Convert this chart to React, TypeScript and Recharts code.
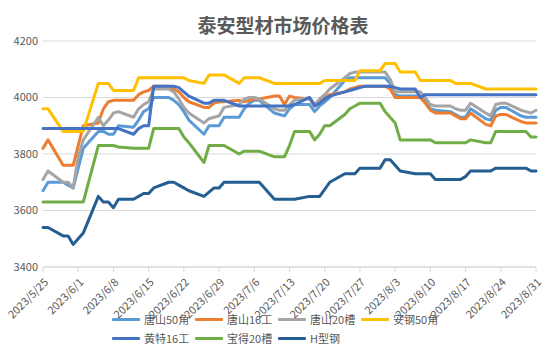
import React from 'react';
import { LineChart, Line, XAxis, YAxis, CartesianGrid } from 'recharts';

const dates = [
  '2023/5/25', '2023/5/26', '2023/5/29', '2023/5/30', '2023/5/31',
  '2023/6/1', '2023/6/2', '2023/6/5', '2023/6/6', '2023/6/7', '2023/6/8', '2023/6/9',
  '2023/6/12', '2023/6/13', '2023/6/14', '2023/6/15', '2023/6/16',
  '2023/6/19', '2023/6/20', '2023/6/21', '2023/6/22', '2023/6/23',
  '2023/6/26', '2023/6/27', '2023/6/28', '2023/6/29', '2023/6/30',
  '2023/7/3', '2023/7/4', '2023/7/5', '2023/7/6', '2023/7/7',
  '2023/7/10', '2023/7/11', '2023/7/12', '2023/7/13', '2023/7/14',
  '2023/7/17', '2023/7/18', '2023/7/19', '2023/7/20', '2023/7/21',
  '2023/7/24', '2023/7/25', '2023/7/26', '2023/7/27', '2023/7/28',
  '2023/7/31', '2023/8/1', '2023/8/2', '2023/8/3', '2023/8/4',
  '2023/8/7', '2023/8/8', '2023/8/9', '2023/8/10', '2023/8/11',
  '2023/8/14', '2023/8/15', '2023/8/16', '2023/8/17', '2023/8/18',
  '2023/8/21', '2023/8/22', '2023/8/23', '2023/8/24', '2023/8/25',
  '2023/8/28', '2023/8/29', '2023/8/30', '2023/8/31',
];

const tangshan50jiao = [
  3670, 3700, 3700, 3690, 3680,
  3750, 3820, 3880, 3880, 3870, 3870, 3900,
  3895, 3920, 3950, 3960, 4000,
  4000, 3990, 3975, 3950, 3920,
  3870, 3900, 3900, 3900, 3930,
  3930, 3960, 3980, 3990, 3990,
  3945, 3940, 3935, 3960, 3975,
  3975, 3950, 3970, 3985, 4000,
  4060, 4070, 4070, 4070, 4070,
  4070, 4070, 4050, 4010, 4005,
  4005, 4005, 3990, 3960, 3955,
  3950, 3940, 3930, 3930, 3960,
  3925, 3920, 3955, 3965, 3965,
  3935, 3930, 3930, 3930,
];

const tangshan16gong = [
  3820, 3850, 3760, 3760, 3760,
  3830, 3900, 3910, 3960, 3985, 3990, 3990,
  3990, 4010, 4020, 4025, 4040,
  4040, 4030, 4020, 4000, 3985,
  3965, 3965, 3980, 3985, 3985,
  3990, 3985, 3990, 3995, 3995,
  4005, 4005, 3975, 4005, 4000,
  3995, 3970, 3990, 4000, 4010,
  4020, 4030, 4035, 4040, 4040,
  4040, 4040, 4030, 4000, 4000,
  4000, 4000, 3980, 3955, 3945,
  3945, 3935, 3925, 3925, 3945,
  3905, 3900, 3935, 3940, 3940,
  3915, 3910, 3910, 3910,
];

const tangshan20cao = [
  3710, 3740, 3700, 3700, 3680,
  3790, 3850, 3930, 3900, 3920, 3945, 3950,
  3930, 3960, 3975, 3985, 4030,
  4030, 4020, 3995, 3965, 3945,
  3910, 3925, 3930, 3935, 3965,
  3975, 3995, 4000, 4000, 3995,
  3960, 3955, 3955, 3975, 3990,
  4000, 3975, 3995, 4010, 4030,
  4070, 4085, 4090, 4090, 4090,
  4090, 4090, 4065, 4020, 4020,
  4020, 4020, 4000, 3975, 3970,
  3970, 3960, 3955, 3955, 3980,
  3945, 3935, 3975, 3980, 3980,
  3955, 3950, 3945, 3955,
];

const anggang50jiao = [
  3960, 3960, 3880, 3880, 3880,
  3880, 3880, 4050, 4050, 4050, 4025, 4025,
  4025, 4070, 4070, 4070, 4070,
  4070, 4070, 4070, 4070, 4060,
  4050, 4080, 4080, 4080, 4080,
  4050, 4070, 4070, 4070, 4070,
  4050, 4050, 4050, 4050, 4050,
  4050, 4050, 4050, 4060, 4060,
  4060, 4060, 4060, 4095, 4095,
  4095, 4120, 4120, 4120, 4090,
  4090, 4060, 4060, 4060, 4060,
  4060, 4050, 4050, 4050, 4050,
  4030, 4030, 4030, 4030, 4030,
  4030, 4030, 4030, 4030,
];

const huangte16gong = [
  3890, 3890, 3890, 3890, 3890,
  3890, 3890, 3890, 3890, 3890, 3890, 3890,
  3870, 3890, 3900, 3900, 4040,
  4040, 4040, 4035, 4020, 4005,
  3980, 3980, 3990, 3990, 3990,
  3970, 3970, 3970, 3970, 3970,
  3970, 3970, 3970, 3970, 3975,
  4000, 3970, 3980, 3995, 4005,
  4020, 4025, 4030, 4035, 4040,
  4040, 4040, 4040, 4035, 4030,
  4030, 4000, 4010, 4010, 4010,
  4010, 4010, 4010, 4010, 4010,
  4010, 4010, 4010, 4010, 4010,
  4010, 4010, 4010, 4010,
];

const baode20cao = [
  3630, 3630, 3630, 3630, 3630,
  3630, 3630, 3830, 3830, 3830, 3830, 3825,
  3820, 3820, 3820, 3820, 3890,
  3890, 3890, 3890, 3860, 3840,
  3770, 3830, 3830, 3830, 3830,
  3800, 3810, 3810, 3810, 3810,
  3790, 3790, 3790, 3830, 3880,
  3880, 3850, 3870, 3900, 3900,
  3940, 3960, 3970, 3980, 3980,
  3980, 3950, 3930, 3910, 3850,
  3850, 3850, 3850, 3850, 3840,
  3840, 3840, 3840, 3840, 3850,
  3840, 3840, 3880, 3880, 3880,
  3880, 3880, 3860, 3860,
];

const hxinggang = [
  3540, 3540, 3510, 3510, 3480,
  3500, 3520, 3650, 3630, 3630, 3610, 3640,
  3640, 3650, 3660, 3660, 3680,
  3700, 3700, 3690, 3680, 3670,
  3650, 3665, 3680, 3680, 3700,
  3700, 3700, 3700, 3700, 3700,
  3640, 3640, 3640, 3640, 3640,
  3650, 3650, 3650, 3675, 3700,
  3730, 3730, 3730, 3750, 3750,
  3750, 3780, 3780, 3760, 3740,
  3730, 3730, 3730, 3730, 3710,
  3710, 3710, 3710, 3720, 3740,
  3740, 3740, 3750, 3750, 3750,
  3750, 3750, 3740, 3740,
];

const seriesNames = ['唐山50角', '唐山16工', '唐山20槽', '安钢50角', '黄特16工', '宝得20槽', 'H型钢'];
const seriesValues = [tangshan50jiao, tangshan16gong, tangshan20cao, anggang50jiao, huangte16gong, baode20cao, hxinggang];
const seriesColors = ['#5B9BD5', '#ED7D31', '#A5A5A5', '#FFC000', '#4472C4', '#70AD47', '#255E91'];

const xTickLabels = [
  '2023/5/25', '2023/6/1', '2023/6/8', '2023/6/15', '2023/6/22', '2023/6/29', '2023/7/6',
  '2023/7/13', '2023/7/20', '2023/7/27', '2023/8/3', '2023/8/10', '2023/8/17', '2023/8/24', '2023/8/31',
];
const yTicks = [3400, 3600, 3800, 4000, 4200];

const TITLE = '泰安型材市场价格表';
const FONT = '"Noto Sans CJK SC", "Microsoft YaHei", sans-serif';
const TEXT_COLOR = '#595959';

const dayIndex = (s: string) => {
  const [y, m, d] = s.split('/').map(Number);
  return Math.round((Date.UTC(y, m - 1, d) - Date.UTC(2023, 4, 25)) / 86400000);
};

const data = dates.map((date, i) => {
  const row: Record<string, number | string> = { t: dayIndex(date), date };
  seriesNames.forEach((name, k) => {
    row[name] = seriesValues[k][i];
  });
  return row;
});

const xTicks = xTickLabels.map(dayIndex);
const labelByDay: Record<number, string> = {};
xTickLabels.forEach((l) => {
  labelByDay[dayIndex(l)] = l;
});

const XTick = (props: any) => {
  const { x, y, payload } = props;
  const ax = x + 6;
  const ay = y + 9;
  return (
    <text
      x={ax}
      y={ay}
      transform={`rotate(-45, ${ax}, ${ay})`}
      textAnchor="end"
      fill={TEXT_COLOR}
      fontSize={11}
      fontFamily={FONT}
    >
      {labelByDay[payload.value]}
    </text>
  );
};

const LegendBox = () => {
  const colX = [112, 195, 278, 361];
  const rowY = [311, 330];
  return (
    <>
      {seriesNames.map((name, i) => {
        const col = i < 4 ? i : i - 4;
        const row = i < 4 ? 0 : 1;
        return (
          <div
            key={name}
            style={{
              position: 'absolute',
              left: colX[col],
              top: rowY[row],
              height: 16,
              display: 'flex',
              alignItems: 'center',
              fontFamily: FONT,
              fontSize: 11,
              color: TEXT_COLOR,
              whiteSpace: 'nowrap',
            }}
          >
            <span
              style={{
                display: 'inline-block',
                width: 28,
                height: 3,
                background: seriesColors[i],
                marginRight: 4,
                borderRadius: 1,
              }}
            />
            <span>{name}</span>
          </div>
        );
      })}
    </>
  );
};

export default function App() {
  return (
    <div
      style={{
        position: 'absolute',
        left: 0,
        top: 0,
        width: 555,
        height: 356,
        background: '#ffffff',
        overflow: 'hidden',
      }}
    >
      <LineChart
        width={555}
        height={356}
        data={data}
        margin={{ top: 41, right: 19, left: 0, bottom: 29 }}
      >
        <CartesianGrid vertical={false} stroke="#D9D9D9" strokeWidth={1} />
        <XAxis
          dataKey="t"
          type="number"
          domain={[0, 98]}
          ticks={xTicks}
          interval={0}
          height={60}
          tick={<XTick />}
          tickSize={5}
          axisLine={{ stroke: '#D9D9D9' }}
          tickLine={{ stroke: '#D9D9D9' }}
        />
        <YAxis
          type="number"
          domain={[3400, 4200]}
          ticks={yTicks}
          width={43}
          axisLine={false}
          tickLine={false}
          tickSize={3}
          tickMargin={2}
          tick={{ fill: TEXT_COLOR, fontSize: 11, fontFamily: FONT }}
        />
        {seriesNames.map((name, i) => (
          <Line
            key={name}
            type="linear"
            dataKey={name}
            stroke={seriesColors[i]}
            strokeWidth={3}
            dot={false}
            activeDot={false}
            strokeLinejoin="round"
            strokeLinecap="round"
            isAnimationActive={false}
          />
        ))}
      </LineChart>
      <div
        style={{
          position: 'absolute',
          left: 133,
          top: 11,
          width: 300,
          textAlign: 'center',
          fontFamily: FONT,
          fontSize: 19,
          fontWeight: 'bold',
          color: TEXT_COLOR,
          lineHeight: '28px',
        }}
      >
        {TITLE}
      </div>
      <LegendBox />
    </div>
  );
}
